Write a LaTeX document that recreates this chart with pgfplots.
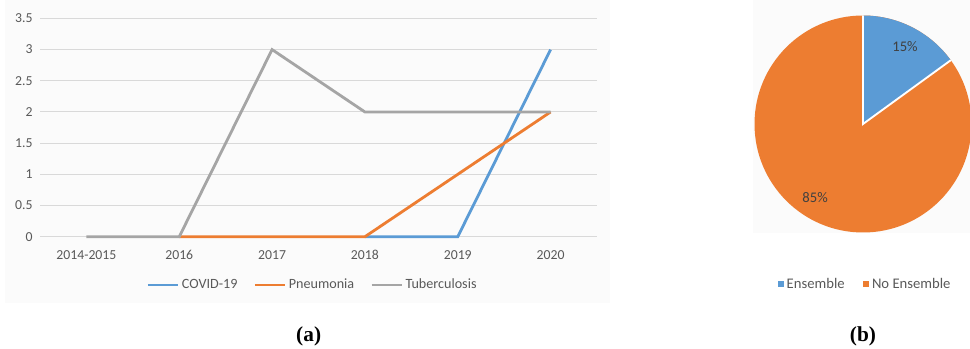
\documentclass[border=0pt]{standalone}
\usepackage{pgfplots}
\pgfplotsset{compat=1.18}
\usepackage{fontspec}
\newfontfamily\carlito[Numbers=Lining]{Carlito}
\newfontfamily\capfont{Liberation Serif}
\definecolor{cblue}{HTML}{5B9BD5}
\definecolor{corange}{HTML}{ED7D31}
\definecolor{cgray}{HTML}{A5A5A5}
\definecolor{gridc}{HTML}{D9D9D9}
\definecolor{txt}{HTML}{595959}
\definecolor{pietxt}{HTML}{404040}
\definecolor{bgc}{HTML}{FBFBFB}
\begin{document}
\begin{tikzpicture}
\useasboundingbox (0,0) rectangle (727.5pt,261.75pt);
\fill[bgc] (3.75pt,34.5pt) rectangle (457.5pt,261.75pt);
\fill[bgc] (564.75pt,87pt) rectangle (727.5pt,261.75pt);
\begin{axis}[
  at={(30pt,84.2pt)}, anchor=south west, scale only axis,
  width=417.75pt, height=163.75pt,
  xmin=-0.5, xmax=5.5, ymin=0, ymax=3.5,
  xtick={0,1,2,3,4,5},
  xticklabels={2014-2015,2016,2017,2018,2019,2020},
  ytick={0,0.5,1,1.5,2,2.5,3,3.5},
  yticklabels={0,0.5,1,1.5,2,2.5,3,3.5},
  ymajorgrids, major grid style={gridc, line width=0.75pt},
  axis line style={draw=none}, major tick length=0pt,
  tick label style={font=\carlito\fontsize{10.3}{12}\selectfont, text=txt},
  yticklabel style={xshift=-2pt},
  xticklabel style={yshift=-6pt, text height=7.5pt, text depth=2pt},
  /pgf/number format/assume math mode=true,
  clip=false,
  legend columns=3,
  legend style={at={(0.49,-0.221)}, anchor=center, draw=none, fill=none,
    font=\carlito\fontsize{10.6}{12}\selectfont, text=txt,
    /tikz/every even column/.append style={column sep=10pt}},
  legend image code/.code={\draw[#1,line width=2pt] (0pt,0pt) -- (22.5pt,0pt);},
]
\addplot[cblue, line width=2.1pt] coordinates {(3,0) (4,0) (5,3)};
\addlegendentry{COVID-19}
\addplot[corange, line width=2.1pt] coordinates {(1,0) (2,0) (3,0) (4,1) (5,2)};
\addlegendentry{Pneumonia}
\addplot[cgray, line width=2.1pt] coordinates {(0,0) (1,0) (2,3) (3,2) (4,2) (5,2)};
\addlegendentry{Tuberculosis}
\end{axis}
\begin{axis}[
  at={(647.25pt,168.75pt)}, anchor=center, scale only axis,
  width=162.75pt, height=162.75pt,
  xmin=-1, xmax=1, ymin=-1, ymax=1,
  hide axis, clip=false,
  legend columns=2,
  legend style={at={(0.512,-0.237)}, anchor=center, draw=none, fill=none,
    font=\carlito\fontsize{11}{13}\selectfont, text=txt,
    /tikz/every even column/.append style={column sep=12pt}},
  legend image code/.code={\fill[#1] (0pt,-2.2pt) rectangle (4.5pt,2.3pt);},
]
\addlegendimage{fill=cblue, draw=none}
\addlegendentry{Ensemble}
\addlegendimage{fill=corange, draw=none}
\addlegendentry{No Ensemble}
\pgfmathsetmacro\ens{15}
\pgfmathsetmacro\angEnd{90-\ens*3.6}
\fill[corange] (axis cs:0,0) -- (axis cs:0,1) arc[start angle=90, end angle={\angEnd-360}, radius=81.375pt] -- cycle;
\fill[cblue] (axis cs:0,0) -- (axis cs:0,1) arc[start angle=90, end angle=\angEnd, radius=81.375pt] -- cycle;
\draw[white, line width=1.4pt] (axis cs:0,1) -- (axis cs:0,0) -- (axis cs:{cos(\angEnd)},{sin(\angEnd)});
\node[font=\carlito\fontsize{11}{13}\selectfont, text=pietxt] at (axis cs:0.387,0.71) {15\%};
\node[font=\carlito\fontsize{11}{13}\selectfont, text=pietxt] at (axis cs:-0.442,-0.682) {85\%};
\end{axis}
\node[font=\capfont\bfseries\fontsize{16}{18}\selectfont] at (231.5pt,9.75pt) {(a)};
\node[font=\capfont\bfseries\fontsize{16}{18}\selectfont] at (647.25pt,9.75pt) {(b)};
\end{tikzpicture}
\end{document}
